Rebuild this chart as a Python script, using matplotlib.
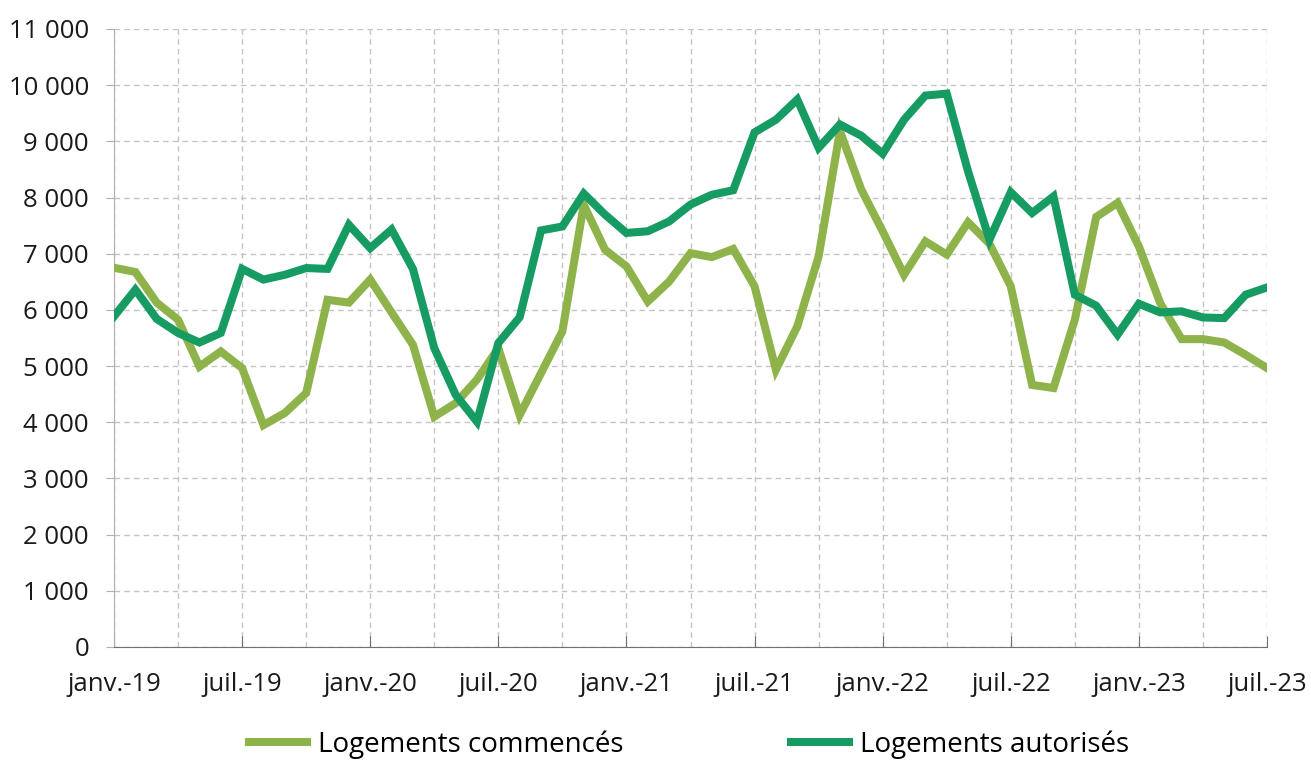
import matplotlib.pyplot as plt
from matplotlib.ticker import FuncFormatter, MultipleLocator

# Monthly series, janv. 2019 -> juil. 2023
commences = [6750, 6675, 6130, 5825, 4990, 5260, 4965, 3950, 4165, 4520,
             6180, 6130, 6540, 5955, 5380, 4100, 4340, 4760, 5320, 4130,
             4875, 5620, 7870, 7070, 6775, 6150, 6505, 7010, 6940, 7085,
             6420, 4935, 5705, 6950, 9180, 8140, 7400, 6625, 7220, 6985,
             7560, 7180, 6420, 4665, 4610, 5825, 7655, 7905, 7130, 6120,
             5480, 5480, 5420, 5200, 4965]
autorises = [5885, 6360, 5840, 5590, 5420, 5590, 6730, 6540, 6625, 6745,
             6730, 7515, 7100, 7430, 6730, 5320, 4490, 4010, 5410, 5870,
             7415, 7485, 8070, 7695, 7370, 7400, 7575, 7875, 8050, 8130,
             9160, 9385, 9745, 8885, 9300, 9100, 8780, 9385, 9815, 9850,
             8465, 7250, 8095, 7725, 8020, 6270, 6075, 5560, 6110, 5955,
             5975, 5865, 5855, 6270, 6400]
tick_labels = ['janv.-19', 'juil.-19', 'janv.-20', 'juil.-20', 'janv.-21',
               'juil.-21', 'janv.-22', 'juil.-22', 'janv.-23', 'juil.-23']

plt.rcParams['font.family'] = ['Open Sans', 'DejaVu Sans']

fig = plt.figure(figsize=(13.11, 7.6), dpi=100)
ax = fig.add_axes([114 / 1311, 1 - 647 / 760, (1267 - 114) / 1311, (647 - 29) / 760])

months = list(range(len(commences)))
ax.plot(months, commences, color='#8fb34b', lw=5.8, solid_joinstyle='miter',
        label='Logements commencés', zorder=3)
ax.plot(months, autorises, color='#169c62', lw=5.8, solid_joinstyle='miter',
        label='Logements autorisés', zorder=4)

ax.set_xlim(0, len(months) - 1)
ax.set_ylim(0, 11000)
ax.set_xticks(range(0, len(months), 6))
ax.set_xticklabels(tick_labels)
ax.xaxis.set_minor_locator(MultipleLocator(3))
ax.yaxis.set_major_locator(MultipleLocator(1000))
ax.yaxis.set_major_formatter(FuncFormatter(lambda v, p: f'{int(v):,}'.replace(',', ' ')))

ax.grid(True, which='both', axis='x', color='#c4c4c4', ls=(0, (4, 3)), lw=1)
ax.grid(True, which='major', axis='y', color='#c4c4c4', ls=(0, (4, 3)), lw=1)
ax.set_axisbelow(True)

for s in ['top', 'right']:
    ax.spines[s].set_visible(False)
ax.spines['left'].set_color('#b0b0b0')
ax.spines['bottom'].set_color('#707070')
ax.tick_params(axis='x', which='major', direction='in', length=8, color='#707070',
               pad=18, labelsize=18.5, labelcolor='#1a1a1a')
ax.tick_params(axis='x', which='minor', length=0)
ax.tick_params(axis='y', direction='out', length=6, color='#b0b0b0',
               pad=12, labelsize=18.5, labelcolor='#1a1a1a')

fig.legend(loc='center', bbox_to_anchor=(0.5256, 0.02), ncol=2, frameon=False,
           fontsize=20, handlelength=2.1, columnspacing=6.0, handletextpad=0.4)

fig.savefig('out.png', dpi=100)
